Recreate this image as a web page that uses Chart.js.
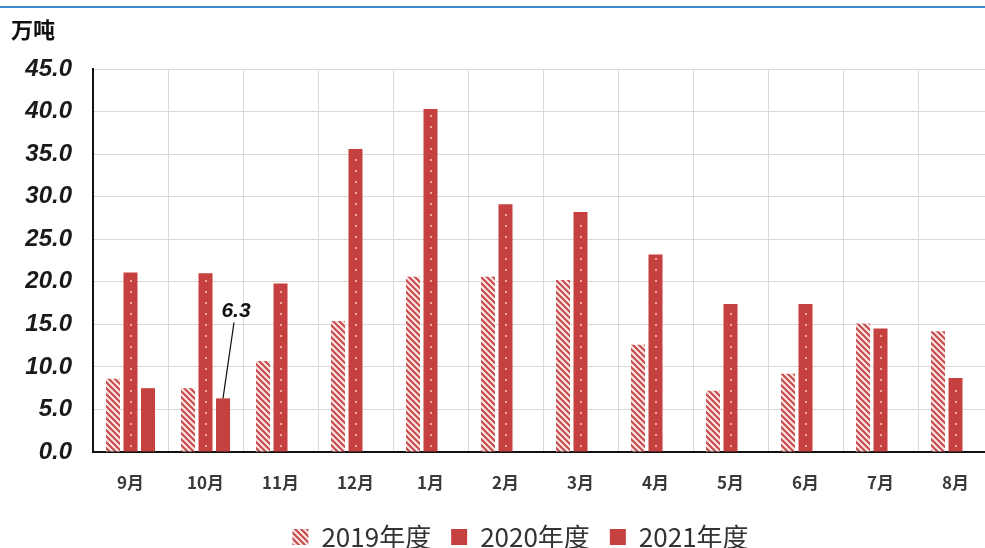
<!DOCTYPE html>
<html>
<head>
<meta charset="utf-8">
<script src="https://cdn.jsdelivr.net/npm/chart.js@4.4.1/dist/chart.umd.min.js"></script>
<style>
  html, body { margin: 0; padding: 0; background: #fff; overflow: hidden; }
  #wrap { position: relative; width: 985px; height: 548px; overflow: hidden; }
  #topline { position: absolute; left: 0; top: 6px; width: 985px; height: 2px; background: #3D8AD0; }
  canvas { position: absolute; left: 0; top: 0; }
</style>
</head>
<body>
<div id="wrap">
  <canvas id="c" width="1000" height="548"></canvas>
  <div id="topline"></div>
</div>
<script>
const categories = ['9月','10月','11月','12月','1月','2月','3月','4月','5月','6月','7月','8月'];
const seriesNames = ['2019年度','2020年度','2021年度'];
const values2019 = [8.6, 7.5, 10.7, 15.4, 20.6, 20.6, 20.2, 12.6, 7.2, 9.2, 15.1, 14.2];
const values2020 = [21.1, 21.0, 19.8, 35.6, 40.3, 29.1, 28.2, 23.2, 17.4, 17.4, 14.5, 8.7];
const values2021 = [7.5, 6.3, null, null, null, null, null, null, null, null, null, null];
const yTicks = [0, 5, 10, 15, 20, 25, 30, 35, 40, 45];
const unitLabel = '万吨';
const annotated = { dataset: 2, index: 1, text: '6.3' };

const RED = '#C5413F';

function hatchPattern() {
  const s = 6;
  const p = document.createElement('canvas');
  p.width = s; p.height = s;
  const g = p.getContext('2d');
  g.fillStyle = '#FCE4E4';
  g.fillRect(0, 0, s, s);
  g.strokeStyle = '#C24A48';
  g.lineWidth = 2;
  g.beginPath();
  g.moveTo(-1, -1); g.lineTo(s + 1, s + 1);
  g.moveTo(-1, s - 1); g.lineTo(1, s + 1);
  g.moveTo(s - 1, -1); g.lineTo(s + 1, 1);
  g.stroke();
  return g.createPattern(p, 'repeat');
}
const ctx = document.getElementById('c').getContext('2d');
const hatch = hatchPattern();

const extras = {
  id: 'extras',
  afterDatasetsDraw(chart) {
    const c = chart.ctx;
    const meta1 = chart.getDatasetMeta(1);
    c.save();
    c.fillStyle = '#F3A5A3';
    meta1.data.forEach(bar => {
      for (let y = bar.base - 6; y > bar.y + 3; y -= 11) {
        c.fillRect(Math.round(bar.x) - 1, Math.round(y) - 1, 2, 2);
      }
    });
    c.restore();
    const bar = chart.getDatasetMeta(annotated.dataset).data[annotated.index];
    c.save();
    c.strokeStyle = '#111';
    c.lineWidth = 1.2;
    c.beginPath();
    c.moveTo(bar.x, bar.y);
    c.lineTo(bar.x + 11, bar.y - 76);
    c.stroke();
    c.fillStyle = '#111';
    c.font = 'italic bold 21px "Liberation Sans", Arial, sans-serif';
    c.textAlign = 'center';
    c.textBaseline = 'middle';
    c.fillText(annotated.text, bar.x + 13, bar.y - 87);
    c.restore();
  },
  afterDraw(chart) {
    const c = chart.ctx;
    c.save();
    c.fillStyle = '#111';
    c.font = 'bold 22px "Noto Sans CJK SC", sans-serif';
    c.textAlign = 'left';
    c.textBaseline = 'middle';
    c.fillText(unitLabel, 11, 30);
    c.restore();
  },
  afterLayout(chart) {
    const lg = chart.legend;
    if (lg) { lg.left += 24; lg.right += 24; lg.top += 12; lg.bottom += 12; }
  }
};

new Chart(ctx, {
  type: 'bar',
  data: {
    labels: categories,
    datasets: [
      { label: seriesNames[0], data: values2019, backgroundColor: hatch, borderWidth: 0 },
      { label: seriesNames[1], data: values2020, backgroundColor: RED, borderWidth: 0 },
      { label: seriesNames[2], data: values2021, backgroundColor: RED, borderWidth: 0 }
    ]
  },
  options: {
    responsive: false,
    devicePixelRatio: 1,
    animation: false,
    categoryPercentage: 0.70,
    barPercentage: 0.8,
    layout: { padding: { top: 69, right: 7, left: 0, bottom: 0 } },
    plugins: {
      legend: {
        position: 'bottom',
        labels: {
          boxWidth: 16, boxHeight: 16, padding: 20,
          color: '#333',
          font: { family: '"Noto Sans CJK SC", sans-serif', size: 26 }
        }
      },
      tooltip: { enabled: false },
      title: { display: false }
    },
    scales: {
      x: {
        grid: { color: '#D9D9D9', lineWidth: 1, drawTicks: false, offset: true },
        border: { color: '#111', width: 2 },
        ticks: {
          padding: 20, color: '#3a3a3a',
          font: { family: '"Noto Sans CJK SC", sans-serif', size: 17, weight: 'bold' }
        },
        afterFit(s) { s.height = 40; }
      },
      y: {
        min: 0, max: 45,
        afterBuildTicks(s) { s.ticks = yTicks.map(v => ({ value: v })); },
        grid: { color: '#D9D9D9', lineWidth: 1, drawTicks: false },
        border: { color: '#111', width: 2 },
        ticks: {
          padding: 21, color: '#1a1a1a',
          font: { family: '"Liberation Sans", Arial, sans-serif', size: 24, weight: 'bold', style: 'italic' },
          callback: v => Number(v).toFixed(1)
        },
        afterFit(s) { s.width = 93; }
      }
    }
  },
  plugins: [extras]
});
</script>
</body>
</html>
